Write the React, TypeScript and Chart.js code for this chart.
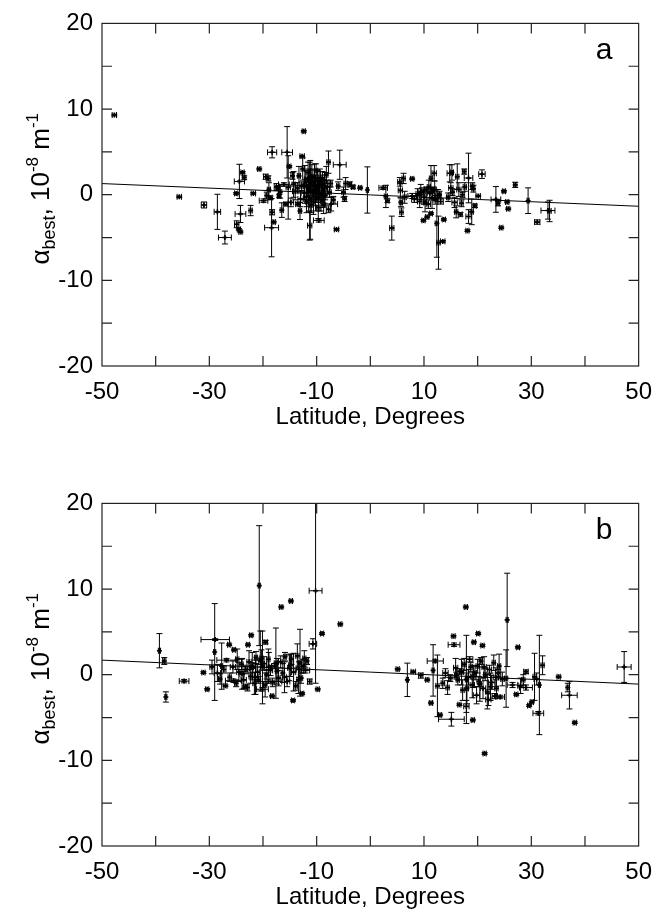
import React, { useEffect, useRef } from "react";
import { Chart, registerables } from "chart.js";

Chart.register(...registerables);

// ---------- Panel a data ----------
const latA = [
  -47.7, -35.6, -31.0, -28.5, -27.1, -24.9, -25.0, -24.4, -23.8, -23.5,
  -24.2, -24.5, -24.2, -22.3, -21.8, -20.7, -19.5, -18.3, -18.3, -18.4,
  -18.0, -18.9, -19.9, -18.6, -17.2, -17.0, -16.5, -15.5, -15.3, -15.1,
  -16.1, -15.8, -14.3, -13.1, -12.4, -12.7, -13.5, -11.3, -11.2, -9.6,
  -7.8, -7.3, -6.3, -5.7, -4.6, -4.8, -3.8, -3.2, -1.9, -0.55,
  2.4, 2.9, 3.2, 4.0, 5.5, 5.6, 5.7, 5.8, 7.8, 7.8,
  9.9, 10.6, 11.3, 11.3, 12.4, 12.7, 13.5, 13.7, 14.8, 16.0,
  16.2, 16.8, 17.2, 18.1, 18.3, 18.3, 18.9, 19.5, 20.1, 20.8,
  23.4, 23.8, 24.4, 24.9, 25.5, 25.7, 27.0, 29.4, 31.1, 33.1,
  33.4, -14.0, -13.6, -13.3, -13.0, -12.8, -12.6, -12.3, -12.0, -11.8,
  -11.6, -11.4, -11.1, -11.0, -10.8, -10.7, -10.5, -10.3, -10.1, -10.0,
  -9.8, -9.7, -9.5, -9.3, -9.1, -9.0, -8.8, -8.6, -8.4, -8.2,
  -8.0, -7.8, -7.6, -7.4, -6.9, -16.8, -17.5, -19.0, -19.3, -14.8,
  -14.5, -6.0, -5.0, 6.2, 6.4, 8.2, 8.8, 9.2, 9.6, 10.0,
  10.4, 10.8, 11.1, 11.7, 11.9, 12.1, 12.9, 13.1, 14.5, 15.0,
  15.3, 15.7, 16.5, 17.0, 17.6, 19.2, 15.2, 17.5, 19.0,
  -12.2, -11.9, -11.5, -11.3, -10.9, -10.6, -10.4, -10.2, -9.9, -9.6,
  -9.4, -9.2, -8.9, -8.7, -8.5, 9.4, 10.2, 10.9, 11.5, 12.0,
  12.6,
];
const valA = [
  9.3, -0.25, -1.2, -2.0, -5.0, -3.45, 0.15, 1.55, 2.6, 2.0,
  -2.25, -4.05, -4.35, -1.85, 0.15, 3.0, 2.1, 4.95, -2.05, -3.85,
  -3.2, 0.6, -0.7, -0.35, 0.85, -0.15, -1.8, 4.95, 0.85, 3.3,
  1.2, -1.1, 1.2, -1.9, 7.4, 4.5, -1.1, -3.6, -0.6, -3.0,
  3.8, -1.1, -4.05, 3.5, 1.3, -0.5, 1.2, 0.9, 0.8, 0.55,
  0.8, -0.2, -0.7, -3.9, 1.5, 0.5, -0.9, -2.05, -0.15, 1.85,
  -3.0, -2.6, -2.2, 1.9, -3.35, -5.6, -5.45, -2.9, 2.5, -2.0,
  2.1, -2.3, 0.0, -4.2, 1.95, -2.55, -2.0, -1.3, -0.15, 2.4,
  -0.55, -1.0, -3.85, 0.4, -0.85, -1.65, 1.15, -0.7, -3.2, -1.85,
  -1.9, 0.4, 0.8, 2.2, -0.5, 1.0, 3.0, 0.2, 1.8, -0.8,
  2.6, 0.9, 1.4, -1.2, 0.4, 2.1, 1.0, -0.3, 2.8, 0.6,
  1.6, -1.5, 0.2, 2.0, 1.1, -0.7, 0.5, 1.7, -0.1, 2.3,
  0.9, -1.7, 0.3, 1.3, -0.6, 0.3, 0.9, 1.9, -0.1, -0.9,
  2.2, 1.0, 0.3, 1.9, -0.3, -0.5, 0.1, -0.8, 0.4, -0.3,
  0.6, -1.1, 0.2, 0.5, 2.5, -0.6, 0.0, -0.8, -0.3, 0.8,
  0.3, -0.9, 0.6, -1.0, 0.9, 0.7, 2.6, 2.7, 1.0,
  1.2, -0.3, 0.5, 2.0, 1.5, -0.8, 1.9, 0.2, 1.0, -0.5,
  1.4, 0.0, 1.2, -1.2, 0.8, 0.3, -0.9, 0.9, -0.4, 0.6,
  -0.1,
];
const xerrA = [
  0.4, 0.4, 0.5, 0.6, 1.2, 0.4, 0.3, 0.95, 0.3, 0.3,
  1.0, 0.3, 0.3, 0.3, 0.4, 0.3, 0.4, 0.85, 0.4, 1.3,
  0.3, 0.3, 0.8, 0.3, 0.3, 0.3, 0.3, 1.0, 0.4, 0.3,
  1.0, 0.3, 0.3, 0.3, 0.3, 0.4, 0.4, 0.4, 0.3, 1.0,
  0.3, 1.2, 0.4, 1.2, 0.3, 0.3, 0.3, 0.3, 0.3, 0.2,
  0.8, 0.3, 0.3, 0.4, 0.4, 0.4, 0.3, 0.3, 0.8, 0.3,
  0.3, 0.3, 0.3, 0.3, 0.3, 0.3, 0.4, 0.3, 0.5, 0.3,
  0.3, 0.3, 0.3, 0.3, 0.8, 0.5, 0.3, 0.3, 0.4, 0.6,
  0.9, 0.3, 0.3, 0.3, 0.3, 0.3, 0.3, 0.2, 0.5, 1.3,
  0.3, 0.5, 0.3, 0.3, 0.5, 0.3, 0.3, 0.6, 0.3, 0.3,
  0.4, 0.3, 0.5, 0.3, 0.4, 0.3, 0.6, 0.3, 0.3, 0.5,
  0.3, 0.3, 0.4, 0.3, 0.5, 0.3, 0.3, 0.4, 0.3, 0.3,
  0.5, 0.4, 0.3, 0.3, 0.3, 0.3, 0.4, 0.3, 0.3, 0.5,
  0.3, 0.3, 0.3, 0.3, 0.3, 0.5, 0.3, 0.4, 0.3, 0.5,
  0.3, 0.4, 0.5, 0.3, 0.4, 0.4, 0.3, 0.5, 0.3, 0.4,
  0.3, 0.5, 0.4, 0.3, 0.3, 0.3, 0.3, 0.3, 0.3,
  0.3, 0.5, 0.3, 0.3, 0.6, 0.3, 0.3, 0.5, 0.3, 0.4,
  0.3, 0.3, 0.5, 0.3, 0.3, 0.5, 0.3, 0.3, 0.4, 0.3,
  0.5,
];
const yerrA = [
  0.1, 0.1, 0.35, 2.05, 0.75, 0.4, 0.1, 2.0, 0.1, 0.2,
  1.0, 0.1, 0.1, 0.6, 0.1, 0.1, 0.3, 0.65, 0.3, 3.4,
  0.1, 0.8, 0.2, 0.2, 0.2, 0.2, 0.85, 3.0, 3.7, 0.1,
  0.2, 0.2, 1.5, 1.0, 0.1, 0.1, 0.2, 1.7, 4.6, 0.2,
  1.3, 0.8, 0.1, 1.7, 0.7, 0.3, 0.3, 0.2, 0.1, 2.7,
  0.2, 1.3, 0.2, 1.4, 0.5, 0.8, 0.5, 0.5, 0.3, 0.1,
  0.1, 0.1, 0.1, 1.5, 3.95, 3.1, 0.1, 0.1, 1.0, 0.7,
  1.5, 0.2, 0.3, 0.1, 2.9, 0.8, 1.5, 0.2, 0.1, 0.5,
  1.5, 0.3, 0.1, 0.1, 0.1, 0.1, 0.3, 1.5, 0.25, 1.0,
  1.25, 1.0, 0.6, 1.1, 0.9, 0.5, 1.3, 0.8, 1.0, 0.6,
  1.2, 0.7, 1.5, 0.9, 0.7, 0.9, 0.5, 1.0, 0.8, 0.6,
  1.2, 1.3, 0.6, 0.7, 0.9, 0.8, 1.1, 0.6, 0.5, 1.0,
  0.8, 0.4, 0.6, 0.4, 0.4, 0.7, 0.4, 0.3, 0.4, 0.5,
  0.4, 0.5, 0.6, 0.6, 0.7, 0.4, 0.6, 0.7, 0.4, 0.8,
  0.3, 0.5, 0.6, 0.4, 0.9, 0.5, 0.4, 0.3, 0.5, 0.6,
  0.4, 0.6, 0.8, 0.4, 0.5, 0.4, 0.9, 0.3, 0.4,
  2.2, 1.8, 2.5, 1.8, 2.0, 1.5, 1.7, 2.1, 1.9, 1.4,
  1.6, 1.9, 1.5, 1.0, 1.8, 0.9, 1.1, 0.8, 1.2, 1.0,
  0.7,
];

// ---------- Panel b data ----------
const latB = [
  -39.3, -38.4, -38.1, -34.7, -31.1, -30.4, -29.0, -28.9, -27.7, -26.3,
  -25.4, -20.7, -20.5, -16.6, -14.8, -10.2, -10.7, -11.3, -9.8, -9.0,
  -5.6, -17.6, -13.1, -22.2, -20.1, -19.5, -20.1, -18.3, -14.4, -12.7,
  -22.8, -29.5, -28.5, -28.0, -27.3, -26.8, -26.2, -25.6, -25.0, -24.5,
  -24.0, -23.6, -23.2, -22.9, -22.6, -22.3, -21.9, -21.6, -21.3, -21.0,
  -20.8, -19.8, -19.3, -19.0, -18.6, -18.2, -17.8, -17.1, -16.7, -16.3,
  -15.9, -15.5, -15.1, -14.7, -14.3, -13.9, -13.6, -13.3, -12.9, -12.5,
  -12.1, -11.8, -25.5, -19.0, -23.3, -27.0, 5.1, 6.9, 8.0, 9.4,
  10.6, 11.7, 11.3, 12.1, 12.5, 13.0, 15.1, 15.5, 15.6, 17.8,
  17.9, 20.1, 19.3, 20.9, 21.3, 19.1, 17.9, 16.6, 25.5, 27.5,
  25.3, 29.0, 29.6, 30.6, 31.5, 31.3, 32.1, 35.1, 37.1, 36.8,
  38.1, 47.3, 13.5, 14.0, 14.4, 14.9, 15.9, 16.3, 16.7, 17.2,
  17.5, 18.3, 18.7, 19.0, 19.5, 19.8, 20.2, 20.6, 21.0, 21.4,
  21.8, 22.2, 22.6, 23.0, 23.5, 23.8, 24.2, 24.6, 26.5, 27.2,
  28.0, 28.5, 29.0, 30.1, 31.0, 16.0, 18.5, 20.0, 22.0, 23.2,
  -24.8, -23.9, -22.0, -21.4, -20.3, -19.6, -18.9, -17.4, -16.0, -14.9,
  -13.4, -12.3, 17.0, 18.0, 19.2, 20.4, 21.2, 22.4, 23.4, 24.0,
];
const valB = [
  2.8, 1.6, -2.6, -0.75, 0.25, -1.7, 2.65, 4.1, 1.0, 3.5,
  2.9, 10.4, 1.6, 7.9, 8.6, 9.8, 3.6, -0.8, -1.7, 4.8,
  5.9, 1.35, 1.4, 4.6, 0.85, 3.8, -1.7, -2.5, -3.0, -2.2,
  3.5, 0.9, 0.2, -0.5, 0.6, 1.7, -0.3, 0.9, -1.0, 0.3,
  1.2, -0.6, 0.6, -1.5, 1.5, -0.2, 0.8, -1.0, 2.0, 0.3,
  -0.6, 1.3, 0.0, 1.8, 0.5, -0.9, 1.0, -0.4, 1.5, 0.2,
  2.1, -0.8, 0.8, 1.8, 0.3, -1.3, 2.2, 0.6, -0.4, 1.0,
  0.5, 1.6, -0.7, -0.8, -1.4, -1.3, 0.65, -0.6, 0.35, -0.1,
  -0.6, 0.5, -3.3, 1.6, -1.3, -4.7, -5.2, 4.5, 3.5, 7.9,
  -0.55, 4.8, 3.8, 3.4, -9.2, -5.3, -3.7, -3.5, 6.4, 3.2,
  -0.45, 0.35, -3.6, -0.25, -1.2, -4.5, 1.1, -0.25, -2.4, -1.5,
  -5.6, 0.9, -1.0, 0.2, -1.5, -0.4, 0.8, -0.6, 0.4, -1.8,
  1.2, -0.3, 0.9, -1.2, 0.2, -2.4, -0.8, 1.6, -1.6, 0.0,
  -2.0, 0.6, -0.9, 1.4, -1.6, 0.2, -2.6, -0.5, -1.2, -2.3,
  -1.3, -0.6, -1.5, -3.2, -0.5, -0.1, 1.8, 1.0, -2.9, -2.5,
  1.8, 0.1, 1.0, -0.3, 1.9, -1.2, 0.9, 0.4, -0.3, 1.1,
  -0.6, 1.9, 0.3, -1.6, -0.2, -1.1, 0.9, -1.4, -0.3, 1.0,
];
const xerrB = [
  0.2, 0.3, 0.2, 0.9, 0.3, 0.3, 0.2, 2.65, 0.2, 0.3,
  0.3, 0.2, 0.3, 0.3, 0.3, 1.2, 0.7, 0.4, 0.3, 0.3,
  0.3, 0.3, 0.3, 0.3, 0.3, 0.3, 1.1, 0.3, 0.3, 0.3,
  0.3, 0.4, 0.6, 0.3, 0.4, 1.8, 0.3, 0.5, 0.3, 0.4,
  0.3, 0.5, 0.3, 0.3, 0.4, 0.3, 0.6, 0.3, 0.3, 0.4,
  0.3, 0.5, 0.3, 0.3, 0.4, 0.3, 0.6, 0.3, 0.4, 0.3,
  0.3, 0.5, 0.3, 0.3, 0.4, 0.3, 0.3, 0.5, 0.3, 0.3,
  0.8, 0.3, 1.5, 2.5, 0.3, 0.3, 0.3, 0.2, 0.4, 0.4,
  0.3, 0.2, 0.3, 1.5, 0.3, 0.3, 2.4, 0.3, 1.1, 0.3,
  0.2, 0.3, 0.3, 0.3, 0.3, 0.3, 0.5, 0.3, 0.2, 0.3,
  0.3, 0.4, 0.3, 0.3, 0.2, 1.0, 0.3, 0.3, 1.45, 0.3,
  0.3, 1.3, 0.3, 0.5, 0.3, 0.3, 0.4, 0.3, 0.6, 0.3,
  0.3, 0.5, 0.3, 0.4, 0.3, 0.6, 0.3, 0.3, 0.5, 0.3,
  0.3, 0.4, 0.6, 0.3, 0.3, 0.5, 0.8, 0.3, 1.0, 0.3,
  0.5, 0.3, 1.2, 0.3, 0.5, 0.3, 0.6, 0.3, 0.5, 0.5,
  0.3, 0.4, 0.3, 0.5, 0.3, 0.3, 0.5, 0.3, 0.4, 0.3,
  0.3, 0.3, 0.4, 0.3, 0.5, 0.3, 0.4, 0.3, 0.5, 0.3,
];
const yerrB = [
  2.0, 0.4, 0.6, 0.2, 0.1, 0.1, 5.65, 0.1, 2.7, 0.1,
  0.1, 7.0, 3.5, 0.1, 0.1, 10.8, 0.6, 0.3, 0.1, 0.1,
  0.1, 4.1, 3.9, 0.1, 4.25, 0.2, 0.2, 0.1, 0.1, 0.1,
  0.1, 0.8, 1.0, 0.6, 0.4, 0.2, 0.5, 0.7, 0.4, 1.1,
  0.6, 1.0, 0.5, 0.4, 1.3, 0.8, 0.6, 1.3, 0.7, 0.9,
  0.4, 0.8, 0.5, 1.2, 0.6, 0.5, 0.3, 0.9, 0.7, 1.1,
  0.5, 0.6, 1.5, 0.6, 2.2, 0.5, 1.4, 0.9, 0.6, 0.8,
  0.3, 0.4, 0.2, 0.2, 0.1, 0.1, 0.1, 1.95, 0.1, 0.3,
  0.1, 3.0, 0.1, 0.2, 3.6, 0.1, 0.8, 0.1, 0.2, 0.1,
  5.15, 0.1, 0.1, 0.1, 0.1, 0.1, 0.7, 0.1, 5.45, 0.1,
  3.35, 0.2, 0.1, 2.75, 5.8, 0.2, 1.1, 0.1, 1.6, 0.5,
  0.1, 1.8, 0.6, 0.5, 0.8, 0.4, 1.1, 0.6, 0.3, 1.2,
  0.7, 0.9, 0.5, 1.5, 0.8, 1.0, 0.6, 0.4, 1.2, 0.7,
  2.0, 0.5, 0.8, 0.9, 1.0, 0.4, 0.2, 0.8, 0.3, 0.1,
  0.9, 0.6, 0.3, 0.1, 0.7, 0.4, 0.3, 0.8, 0.7, 0.3,
  1.2, 1.8, 1.6, 2.0, 1.0, 1.4, 1.7, 1.5, 1.8, 1.3,
  1.6, 0.9, 1.5, 1.8, 1.3, 2.0, 1.2, 1.6, 1.1, 1.4,
];

// ---------- Fit lines and ticks ----------
const fitX = [-50, 50];
const fitA = [1.3, -1.35];
const fitB = [1.7, -1.1];
const xTickLabels = ["-50", "-30", "-10", "10", "30", "50"];
const yTickLabels = ["-20", "-10", "0", "10", "20"];
const xAxisTitle = "Latitude, Degrees";

const FONT = "'Liberation Sans', Arial, Helvetica, sans-serif";

type PanelData = {
  letter: string;
  lat: number[];
  val: number[];
  xerr: number[];
  yerr: number[];
  fit: number[];
};

function makePlugin(d: PanelData) {
  return {
    id: "errFrame" + d.letter,
    beforeDatasetsDraw(chart: any) {
      const { ctx, chartArea: ca, scales } = chart;
      const xs = scales.x;
      const ys = scales.y;
      ctx.save();
      ctx.beginPath();
      ctx.rect(ca.left, ca.top, ca.right - ca.left, ca.bottom - ca.top);
      ctx.clip();
      ctx.strokeStyle = "#000";
      ctx.lineWidth = 1;
      const cap = 3;
      for (let i = 0; i < d.lat.length; i++) {
        const px = xs.getPixelForValue(d.lat[i]);
        const py = ys.getPixelForValue(d.val[i]);
        const y1 = ys.getPixelForValue(d.val[i] + d.yerr[i]);
        const y2 = ys.getPixelForValue(d.val[i] - d.yerr[i]);
        const x1 = xs.getPixelForValue(d.lat[i] - d.xerr[i]);
        const x2 = xs.getPixelForValue(d.lat[i] + d.xerr[i]);
        ctx.beginPath();
        ctx.moveTo(px, y1);
        ctx.lineTo(px, y2);
        ctx.moveTo(px - cap, y1);
        ctx.lineTo(px + cap, y1);
        ctx.moveTo(px - cap, y2);
        ctx.lineTo(px + cap, y2);
        ctx.moveTo(x1, py);
        ctx.lineTo(x2, py);
        ctx.moveTo(x1, py - cap);
        ctx.lineTo(x1, py + cap);
        ctx.moveTo(x2, py - cap);
        ctx.lineTo(x2, py + cap);
        ctx.stroke();
      }
      ctx.restore();
    },
    afterDraw(chart: any) {
      const { ctx, chartArea: ca, scales } = chart;
      const xs = scales.x;
      const ys = scales.y;
      ctx.save();
      ctx.strokeStyle = "#222";
      ctx.lineWidth = 1.2;
      ctx.strokeRect(ca.left, ca.top, ca.right - ca.left, ca.bottom - ca.top);
      const tl = 10;
      ctx.beginPath();
      for (let v = -40; v <= 40; v += 10) {
        const px = xs.getPixelForValue(v);
        ctx.moveTo(px, ca.bottom);
        ctx.lineTo(px, ca.bottom - tl);
        ctx.moveTo(px, ca.top);
        ctx.lineTo(px, ca.top + tl);
      }
      for (let v = -15; v <= 15; v += 5) {
        const py = ys.getPixelForValue(v);
        ctx.moveTo(ca.left, py);
        ctx.lineTo(ca.left + tl, py);
        ctx.moveTo(ca.right, py);
        ctx.lineTo(ca.right - tl, py);
      }
      ctx.stroke();

      // panel letter
      ctx.fillStyle = "#000";
      ctx.font = `30px ${FONT}`;
      ctx.textAlign = "center";
      ctx.textBaseline = "alphabetic";
      ctx.fillText(d.letter, 604, 59);

      // y-axis title with subscript / superscripts
      const parts = [
        { t: "α", s: 26, dy: 0 },
        { t: "best", s: 18, dy: 6 },
        { t: ", 10", s: 26, dy: 0 },
        { t: "-8", s: 17, dy: -11 },
        { t: " m", s: 26, dy: 0 },
        { t: "-1", s: 17, dy: -11 },
      ];
      let total = 0;
      const widths: number[] = [];
      for (const p of parts) {
        ctx.font = `${p.s}px ${FONT}`;
        const w = ctx.measureText(p.t).width;
        widths.push(w);
        total += w;
      }
      const cy = (ca.top + ca.bottom) / 2 - 6;
      ctx.translate(49, cy);
      ctx.rotate(-Math.PI / 2);
      ctx.textAlign = "left";
      let x = -total / 2;
      parts.forEach((p, i) => {
        ctx.font = `${p.s}px ${FONT}`;
        ctx.fillText(p.t, x, p.dy);
        x += widths[i];
      });
      ctx.restore();
    },
  };
}

function Panel({ d, top }: { d: PanelData; top: number }) {
  const ref = useRef<HTMLCanvasElement | null>(null);
  useEffect(() => {
    if (!ref.current) return;
    const points = d.lat.map((x, i) => ({ x, y: d.val[i] }));
    const fit = fitX.map((x, i) => ({ x, y: d.fit[i] }));
    const chart = new Chart(ref.current, {
      type: "scatter",
      data: {
        datasets: [
          {
            type: "line",
            data: fit,
            borderColor: "#000",
            borderWidth: 1,
            pointRadius: 0,
            fill: false,
          } as any,
          {
            data: points,
            pointStyle: "cross",
            pointRadius: 2.5,
            pointBorderWidth: 1.6,
            borderColor: "#000",
            backgroundColor: "#000",
          } as any,
        ],
      },
      options: {
        responsive: false,
        animation: false,
        devicePixelRatio: 1,
        layout: { padding: { left: 0, top: 14, right: 14, bottom: 0 } },
        plugins: {
          legend: { display: false },
          tooltip: { enabled: false },
        },
        scales: {
          x: {
            type: "linear",
            min: -50,
            max: 50,
            grid: { display: false, drawTicks: false },
            border: { display: false },
            ticks: {
              stepSize: 10,
              autoSkip: false,
              maxRotation: 0,
              padding: 12,
              color: "#000",
              font: { family: FONT, size: 24 },
              callback: (v: any) =>
                xTickLabels.includes(String(v)) ? String(v) : "",
            },
            title: {
              display: true,
              text: xAxisTitle,
              color: "#000",
              font: { family: FONT, size: 24 },
              padding: { top: 0, bottom: 2 },
            },
            afterFit: (s: any) => {
              s.height = 68;
            },
          },
          y: {
            type: "linear",
            min: -20,
            max: 20,
            grid: { display: false, drawTicks: false },
            border: { display: false },
            ticks: {
              stepSize: 5,
              autoSkip: false,
              padding: 9,
              color: "#000",
              font: { family: FONT, size: 24 },
              callback: (v: any) =>
                yTickLabels.includes(String(v)) ? String(v) : "",
            },
            afterFit: (s: any) => {
              s.width = 102;
            },
          },
        },
      } as any,
      plugins: [makePlugin(d)],
    });
    return () => chart.destroy();
  }, [d]);
  return (
    <canvas
      ref={ref}
      width={664}
      height={434}
      style={{ position: "absolute", left: 0, top, width: 664, height: 434 }}
    />
  );
}

const panelA: PanelData = { letter: "a", lat: latA, val: valA, xerr: xerrA, yerr: yerrA, fit: fitA };
const panelB: PanelData = { letter: "b", lat: latB, val: valB, xerr: xerrB, yerr: yerrB, fit: fitB };

export default function App() {
  return (
    <div style={{ position: "absolute", left: 0, top: 0, width: 664, height: 914, background: "#fff" }}>
      <Panel d={panelA} top={0} />
      <Panel d={panelB} top={480} />
    </div>
  );
}
